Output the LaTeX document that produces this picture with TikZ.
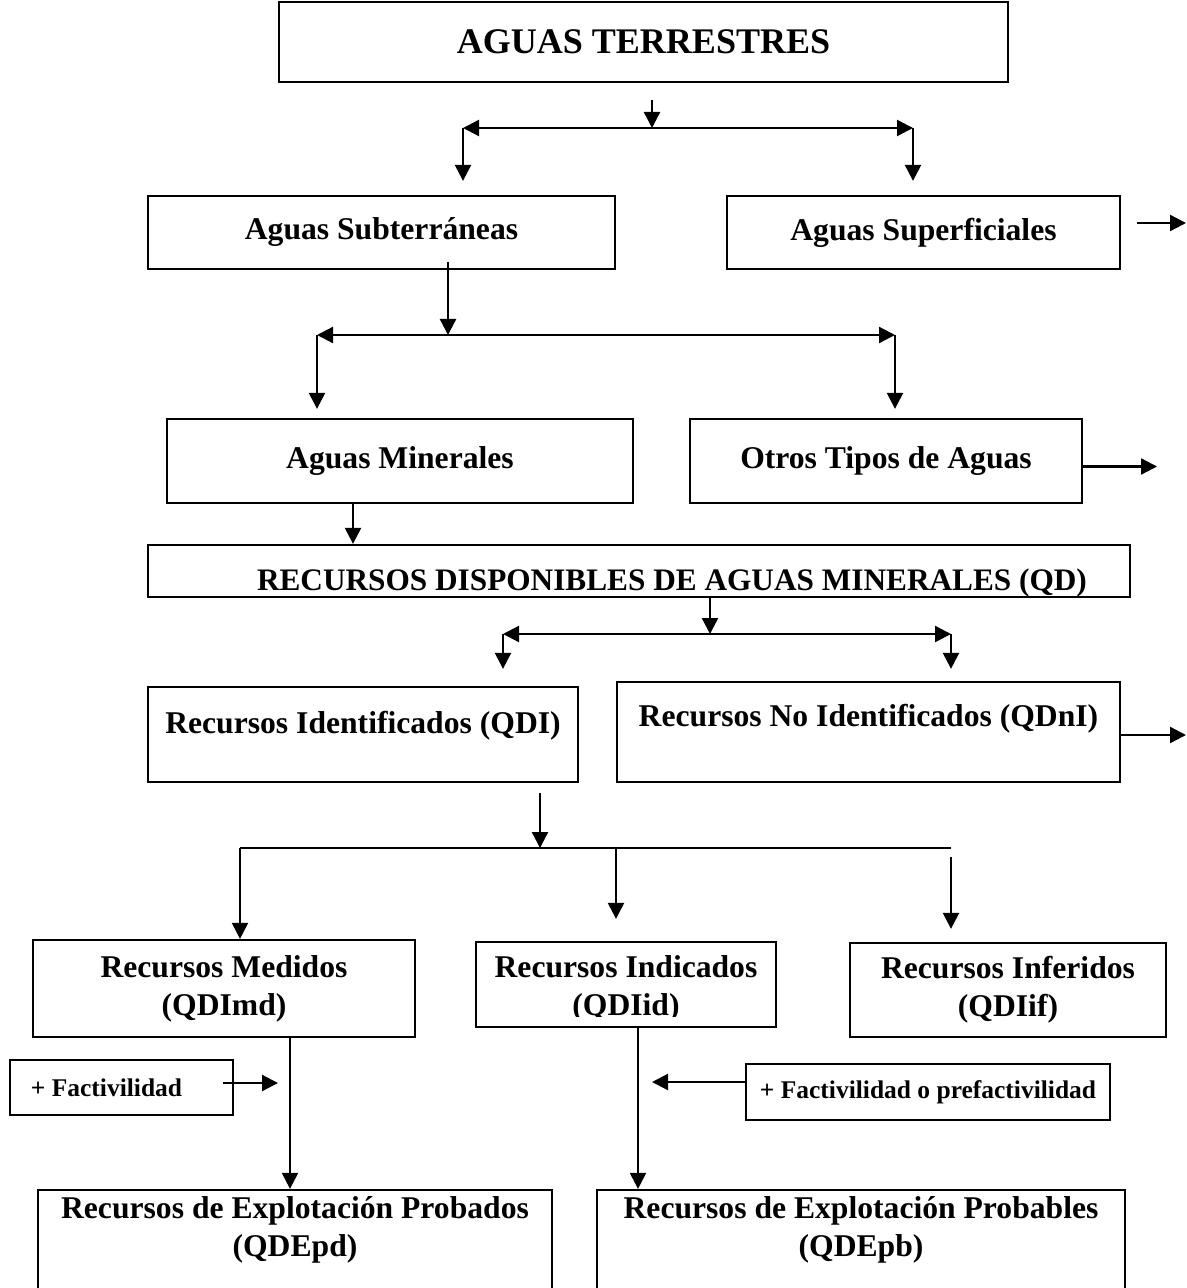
\documentclass[tikz,border=0pt]{standalone}
\usepackage{fontspec}
\setmainfont{Liberation Serif}
\usetikzlibrary{arrows.meta,positioning}

\tikzset{
  caja/.style={
    rectangle, draw=black, line width=1.3pt,
    font=\fontsize{18}{21.5}\selectfont\bfseries,
    align=center, inner sep=0pt
  },
  texto/.style={caja, draw=none},
  nota/.style={caja, font=\fontsize{14.5}{17}\selectfont\bfseries},
  flecha/.style={-{Triangle[length=0.32cm, width=0.32cm]}, line width=1.3pt},
  doble/.style={{Triangle[length=0.32cm, width=0.32cm]}-{Triangle[length=0.32cm, width=0.32cm]},
    line width=1.3pt},
  linea/.style={line width=1.3pt},
}

\begin{document}
\begin{tikzpicture}
  \useasboundingbox (0,0) rectangle (23.74,-25.76);
  \clip (0,0) rectangle (23.74,-25.76);

  % Title
  \node[caja, font=\fontsize{20.5}{24}\selectfont\bfseries,
        minimum width=14.58cm, minimum height=1.60cm] (terr) at (12.87,-0.84) {AGUAS TERRESTRES};

  % Subterraneas / Superficiales
  \node[caja, minimum width=9.34cm, minimum height=1.46cm] (subt) at (7.63,-4.65) {Aguas Subterráneas};
  \node[caja, minimum width=7.86cm, minimum height=1.46cm] (supf) at (18.47,-4.65) {Aguas Superficiales};
  \coordinate (t0) at (13.04,-2.00);
  \coordinate (b0l) at (9.26,-2.56);
  \coordinate (b0r) at (18.26,-2.56);
  \draw[flecha] (t0) -- (t0 |- b0l);
  \draw[doble] (b0l) -- (b0r);
  \draw[flecha, shorten >=0.28cm] (b0l) -- (b0l |- subt.north);
  \draw[flecha, shorten >=0.28cm] (b0r) -- (b0r |- supf.north);
  \coordinate (supa) at (22.74,-4.46);
  \coordinate (supb) at (23.72,-4.46);
  \draw[flecha] (supa) -- (supb);

  % Minerales / Otros
  \node[caja, minimum width=9.32cm, minimum height=1.68cm] (mine) at (8.00,-9.22) {Aguas Minerales};
  \node[caja, minimum width=7.84cm, minimum height=1.68cm] (otro) at (17.72,-9.22) {Otros Tipos de Aguas};
  \coordinate (t1) at (8.96,-5.24);
  \coordinate (b1l) at (6.34,-6.70);
  \coordinate (b1r) at (17.90,-6.70);
  \draw[flecha] (t1) -- (t1 |- b1l);
  \draw[doble] (b1l) -- (b1r);
  \draw[flecha, shorten >=0.18cm] (b1l) -- (b1l |- mine.north);
  \draw[flecha, shorten >=0.18cm] (b1r) -- (b1r |- otro.north);
  \coordinate (otroa) at (23.14,-9.33);
  \draw[flecha] (otro.east |- otroa) -- (otroa);

  % Recursos disponibles
  \node[caja, font=\fontsize{17.8}{21}\selectfont\bfseries,
        minimum width=19.64cm, minimum height=1.04cm, text height=0.88cm, text depth=0.1cm]
        (recd) at (12.78,-11.42) {\hspace*{1.32cm}RECURSOS DISPONIBLES DE AGUAS MINERALES (QD)};
  \draw[flecha] ([xshift=-0.94cm]mine.south) -- ([xshift=-0.94cm]mine.south |- recd.north);

  % Identificados / No identificados
  \node[caja, minimum width=8.60cm, minimum height=1.90cm, text height=0.5cm, text depth=0.54cm]
        (qdi) at (7.26,-14.69) {Recursos Identificados (QDI)};
  \node[caja, minimum width=10.06cm, minimum height=2.00cm, text height=0.5cm, text depth=0.74cm]
        (qdni) at (17.37,-14.64) {Recursos No Identificados (QDnI)};
  \coordinate (b2l) at (10.06,-12.68);
  \coordinate (b2r) at (19.02,-12.68);
  \draw[flecha] ([xshift=1.42cm]recd.south) -- ([xshift=1.42cm]recd.south |- b2l);
  \draw[doble] (b2l) -- (b2r);
  \draw[flecha, shorten >=0.34cm] (b2l) -- (b2l |- qdi.north);
  \draw[flecha, shorten >=0.24cm] (b2r) -- (b2r |- qdni.north);
  \coordinate (qdnia) at (23.72,-14.70);
  \draw[flecha] (qdni.east |- qdnia) -- (qdnia);

  % Medidos / Indicados / Inferidos
  \node[caja, minimum width=7.64cm, minimum height=1.94cm] (med) at (4.48,-19.77) {Recursos Medidos\\(QDImd)};
  \node[caja, minimum width=6.00cm, minimum height=1.70cm] (ind) at (12.52,-19.69) {};
  \begin{scope}
    \clip (ind.north west) rectangle ([yshift=0.24cm]ind.south east);
    \node[texto] (indtxt) at (12.52,-19.77) {Recursos Indicados\\(QDIid)};
  \end{scope}
  \node[caja, minimum width=6.32cm, minimum height=1.88cm] (inf) at (20.16,-19.80) {Recursos Inferidos\\(QDIif)};
  \coordinate (t3) at (10.80,-15.86);
  \coordinate (b3l) at (4.80,-16.96);
  \coordinate (b3m) at (12.32,-16.96);
  \coordinate (b3r) at (19.02,-16.96);
  \draw[flecha] (t3) -- (t3 |- b3l);
  \draw[linea] (b3l) -- (b3r);
  \draw[flecha] (b3l) -- (b3l |- med.north);
  \draw[flecha, shorten >=0.44cm] (b3m) -- (b3m |- ind.north);
  \draw[flecha, shorten <=0.18cm, shorten >=0.26cm] (b3r) -- (b3r |- inf.north);

  % Factibilidad notes
  \node[nota, minimum width=4.46cm, minimum height=1.10cm] (fac) at (2.43,-21.75) {+ Factivilidad\hspace*{0.6cm}};
  \node[nota, minimum width=7.28cm, minimum height=1.12cm] (fpr) at (18.56,-21.84) {+ Factivilidad o prefactivilidad};

  % Explotacion
  \node[caja, minimum width=10.28cm, minimum height=2.40cm] (pro) at (5.90,-25.00) {};
  \node[texto, below=0.14cm of pro.north] (protxt) {Recursos de Explotación Probados\\(QDEpd)};
  \node[caja, minimum width=10.56cm, minimum height=2.40cm] (prb) at (17.22,-25.00) {};
  \node[texto, below=0.14cm of prb.north] (prbtxt) {Recursos de Explotación Probables\\(QDEpb)};
  \draw[flecha] ([xshift=1.32cm]med.south) -- ([xshift=1.32cm]med.south |- pro.north);
  \draw[flecha] ([xshift=0.24cm]ind.south) -- ([xshift=0.24cm]ind.south |- prb.north);
  \coordinate (faca) at (5.56,-21.66);
  \draw[flecha] ([xshift=-0.22cm]fac.east |- faca) -- (faca);
  \coordinate (fpra) at (13.04,-21.64);
  \draw[flecha] (fpr.west |- fpra) -- (fpra);
\end{tikzpicture}
\end{document}
